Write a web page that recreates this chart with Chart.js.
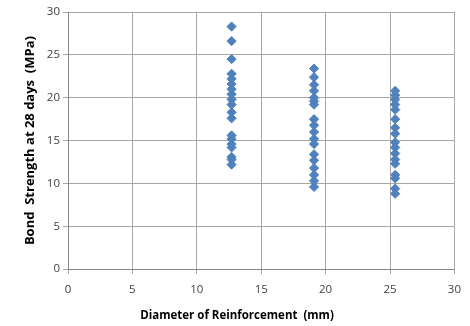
<!DOCTYPE html>
<html>
<head>
<meta charset="utf-8">
<script src="https://cdn.jsdelivr.net/npm/chart.js@4"></script>
<style>
  html, body { margin: 0; padding: 0; background: #fff; }
  #wrap { width: 470px; height: 326px; }
</style>
</head>
<body>
<div id="wrap"><canvas id="bondChart" width="470" height="326"></canvas></div>
<script>
// bar diameters (mm)
const diameters = [12.7, 19.1, 25.4];

// bond strength at 28 days (MPa), one list per diameter
const bond127 = [28.3, 26.6, 24.5, 22.8, 22.2, 21.6, 21.0, 20.4, 19.8, 19.2, 18.3, 17.6, 15.6, 15.2, 14.6, 14.2, 13.1, 12.8, 12.2];
const bond191 = [23.4, 22.4, 21.5, 20.8, 20.0, 19.6, 19.2, 17.5, 16.8, 16.0, 15.2, 14.6, 13.4, 12.7, 11.8, 11.0, 10.3, 9.6];
const bond254 = [20.8, 20.3, 19.8, 19.2, 18.6, 17.5, 16.5, 15.8, 14.8, 14.2, 13.5, 12.8, 12.3, 11.0, 10.6, 9.4, 8.8];

const xTicks = [0, 5, 10, 15, 20, 25, 30];
const yTicks = [0, 5, 10, 15, 20, 25, 30];

const points = [];
[bond127, bond191, bond254].forEach((vals, i) => {
  vals.forEach(v => points.push({ x: diameters[i], y: v }));
});

const ctx = document.getElementById('bondChart').getContext('2d');

new Chart(ctx, {
  type: 'scatter',
  data: {
    datasets: [{
      data: points,
      pointStyle: 'rectRot',
      pointRadius: 4.6,
      backgroundColor: '#4F81BD',
      borderColor: '#4F81BD',
      borderWidth: 1
    }]
  },
  options: {
    responsive: false,
    animation: false,
    layout: { padding: { left: 18, right: 14, top: 12, bottom: 0 } },
    plugins: {
      legend: { display: false },
      tooltip: { enabled: false },
      // x axis title, centred on the whole chart like the original
      title: {
        display: true,
        position: 'bottom',
        text: 'Diameter of Reinforcement  (mm)',
        color: '#000',
        font: { family: 'Open Sans', size: 11.5, weight: 'bold' },
        padding: { top: 9, bottom: 3 }
      }
    },
    scales: {
      x: {
        type: 'linear',
        min: 0,
        max: 30,
        afterBuildTicks: s => { s.ticks = xTicks.map(v => ({ value: v })); },
        afterFit: s => { s.height = 31; },
        grid: { color: '#A6A6A6', tickLength: 5, drawTicks: true },
        border: { color: '#868686' },
        ticks: { color: '#404040', font: { family: 'Open Sans', size: 11.5 }, padding: 9 }
      },
      y: {
        type: 'linear',
        min: 0,
        max: 30,
        afterBuildTicks: s => { s.ticks = yTicks.map(v => ({ value: v })); },
        afterFit: s => { s.width = 50; },
        grid: { color: '#A6A6A6', tickLength: 5, drawTicks: true },
        border: { color: '#868686' },
        ticks: { color: '#404040', font: { family: 'Open Sans', size: 11.5 }, padding: 3 },
        title: {
          display: true,
          text: 'Bond  Strength at 28 days  (MPa)',
          color: '#000',
          font: { family: 'Open Sans', size: 13, weight: 'bold' },
          padding: { bottom: 3 }
        }
      }
    }
  }
});
</script>
</body>
</html>
